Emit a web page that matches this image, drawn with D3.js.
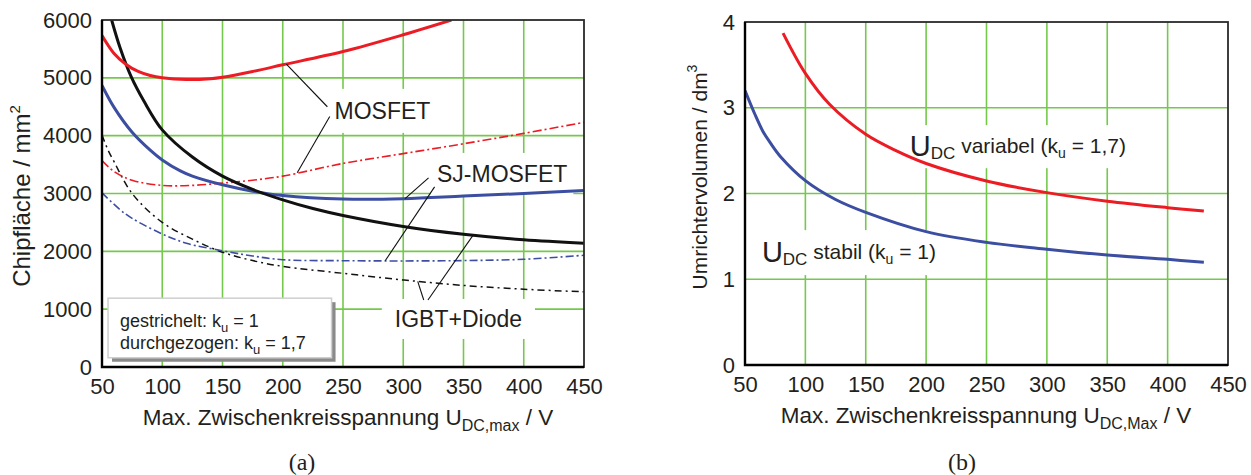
<!DOCTYPE html>
<html lang="de">
<head>
<meta charset="UTF-8">
<title>Chipfläche und Umrichtervolumen</title>
<script src="https://cdn.jsdelivr.net/npm/d3@7"></script>
<style>
  body { margin: 0; background: #fff; }
  svg { font-family: "Liberation Sans", Arial, sans-serif; fill: #231f20; }
  .grid { stroke: #74c94c; stroke-width: 1.6; }
  .tick text { font-size: 22px; fill: #231f20; }
  .leader { stroke: #111; stroke-width: 1.1; fill: none; }
</style>
</head>
<body>
<script>
// x ticks shared by both panels (U_DC,max / V)
var xTicks = [50, 100, 150, 200, 250, 300, 350, 400, 450];
var yTicksA = [0, 1000, 2000, 3000, 4000, 5000, 6000];
var yTicksB = [0, 1, 2, 3, 4];

// (a) Chipfläche / mm²  -- solid: k_u = 1,7, dash-dot: k_u = 1
var mosfetSolid = [[50,5730],[60,5420],[70,5230],[80,5110],[90,5040],[100,5000],[120,4970],[140,4985],[150,5010],[175,5110],[200,5225],[250,5455],[300,5745],[340,6000]];
var mosfetDash = [[50,3570],[60,3380],[75,3230],[100,3140],[125,3140],[150,3180],[175,3230],[200,3300],[250,3520],[300,3690],[350,3860],[400,4040],[450,4230]];
var sjSolid = [[50,4870],[60,4490],[75,4060],[90,3750],[100,3580],[115,3390],[125,3300],[150,3150],[175,3040],[200,2965],[250,2905],[300,2910],[350,2955],[400,3000],[450,3050]];
var sjDash = [[50,3010],[65,2720],[75,2570],[100,2300],[120,2140],[150,2010],[175,1920],[200,1855],[250,1838],[300,1834],[350,1840],[400,1863],[450,1932]];
var igbtSolid = [[58,6000],[65,5520],[74,5030],[85,4590],[100,4100],[125,3630],[150,3300],[175,3070],[200,2890],[225,2740],[250,2620],[300,2430],[350,2295],[400,2200],[450,2140]];
var igbtDash = [[50,4010],[55,3750],[60,3550],[75,3000],[100,2500],[125,2210],[150,1985],[175,1840],[200,1740],[250,1620],[300,1505],[350,1410],[400,1345],[450,1300]];

// (b) Umrichtervolumen / dm³
var volVariabel = [[81.5,3.87],[100,3.40],[120,3.04],[150,2.69],[175,2.50],[200,2.35],[250,2.146],[300,2.01],[350,1.91],[400,1.835],[430,1.796]];
var volStabil = [[50,3.20],[58,2.93],[65,2.72],[71,2.59],[80,2.42],[100,2.15],[125,1.93],[150,1.78],[200,1.555],[250,1.43],[300,1.35],[350,1.283],[400,1.232],[430,1.198]];

var red = "#ec1c24", blue = "#3c4ea2", black = "#111";

var svg = d3.select("body").append("svg")
    .attr("width", 1251).attr("height", 475);

// builds text with sub/superscripts; parts = [text, size, shift]
function rich(g, x, y, parts, size) {
    var t = g.append("text").attr("x", x).attr("y", y).attr("font-size", size);
    var cur = 0;
    parts.forEach(function(p) {
        var s = p[2] || 0;
        t.append("tspan").attr("dy", s - cur).attr("font-size", p[1] || size).text(p[0]);
        cur = s;
    });
    return t;
}

function panel(opt) {
    var x = d3.scaleLinear().domain([50, 450]).range([opt.left, opt.right]);
    var y = d3.scaleLinear().domain(opt.yDomain).range([opt.bottom, opt.top]);
    var g = svg.append("g");
    var id = opt.id;

    g.append("clipPath").attr("id", id).append("rect")
        .attr("x", opt.left).attr("y", opt.top)
        .attr("width", opt.right - opt.left).attr("height", opt.bottom - opt.top);

    var gridG = g.append("g");
    gridG.selectAll(".gx").data(xTicks.slice(1, -1)).enter().append("line")
        .attr("class", "grid")
        .attr("x1", x).attr("x2", x).attr("y1", opt.top).attr("y2", opt.bottom);
    gridG.selectAll(".gy").data(opt.yTicks.slice(1, -1)).enter().append("line")
        .attr("class", "grid")
        .attr("y1", y).attr("y2", y).attr("x1", opt.left).attr("x2", opt.right);

    var bgG = g.append("g");
    var curveG = g.append("g").attr("clip-path", "url(#" + id + ")");
    var textG = g.append("g");

    // frame
    g.append("rect").attr("x", opt.left).attr("y", opt.top)
        .attr("width", opt.right - opt.left).attr("height", opt.bottom - opt.top)
        .attr("fill", "none").attr("stroke", "#2a2a2a").attr("stroke-width", 1.8);
    g.append("path")
        .attr("d", "M" + opt.left + "," + opt.top + "V" + opt.bottom + "H" + opt.right)
        .attr("fill", "none").attr("stroke", "#000").attr("stroke-width", 2.4);

    // axes
    var ax = g.append("g").attr("transform", "translate(0," + opt.bottom + ")")
        .call(d3.axisBottom(x).tickValues(xTicks).tickFormat(d3.format("d")).tickSize(0).tickPadding(11));
    var ay = g.append("g").attr("transform", "translate(" + opt.left + ",0)")
        .call(d3.axisLeft(y).tickValues(opt.yTicks).tickFormat(d3.format("d")).tickSize(0).tickPadding(10));
    ax.select(".domain").remove();
    ay.select(".domain").remove();
    g.selectAll(".tick text").attr("font-family", null);

    var line = d3.line().x(function(d) { return x(d[0]); }).y(function(d) { return y(d[1]); })
        .curve(d3.curveCatmullRom.alpha(0.5));

    function curve(data, color, width, dash) {
        curveG.append("path").datum(data).attr("d", line)
            .attr("fill", "none").attr("stroke", color)
            .attr("stroke-width", width).attr("stroke-dasharray", dash || null)
            .attr("stroke-linecap", "butt");
    }

    // label with white box behind it (hides grid lines)
    function label(px, py, parts, size, padX, padY) {
        var t = rich(textG, x(px), y(py), parts, size);
        var b = t.node().getBBox();
        bgG.append("rect").attr("x", b.x - padX).attr("y", b.y - padY)
            .attr("width", b.width + 2 * padX).attr("height", b.height + 2 * padY)
            .attr("fill", "#fff");
        return t;
    }

    function leader(pts) {
        textG.append("path").attr("class", "leader")
            .attr("d", d3.line()(pts.map(function(p) { return [x(p[0]), y(p[1])]; })));
    }

    return { x: x, y: y, g: g, curve: curve, label: label, leader: leader, textG: textG, bgG: bgG };
}

// ---------- panel (a)
var A = panel({ id: "clipA", left: 102, right: 584, top: 20, bottom: 367,
    yDomain: [0, 6000], yTicks: yTicksA });

A.label(243, 4290, [["MOSFET"]], 23, 6, 9);
A.label(328, 3200, [["SJ-MOSFET"]], 23, 6, 8);
A.label(293, 692, [["IGBT+Diode"]], 23, 13, 7);

A.curve(igbtDash, black, 1.5, "7,4,2,4");
A.curve(sjDash, blue, 1.6, "8,3,2,3");
A.curve(mosfetDash, red, 1.6, "9,3,2,3");
A.curve(sjSolid, blue, 3);
A.curve(igbtSolid, black, 3);
A.curve(mosfetSolid, red, 3);

A.leader([[237, 4500], [203, 5235]]);
A.leader([[239, 4330], [212, 3360]]);
A.leader([[321, 3270], [301.5, 2912]]);
A.leader([[326, 3114], [285, 1836]]);
A.leader([[320.5, 1159], [358, 2280]]);
A.leader([[317, 1159], [312, 1480]]);

// legend box
var lx0 = A.x(55), lx1 = A.x(240.5), ly0 = A.y(1190), ly1 = A.y(160);
A.textG.append("rect").attr("x", lx0 + 4).attr("y", ly0 + 4)
    .attr("width", lx1 - lx0).attr("height", ly1 - ly0).attr("fill", "#8a8a8a");
A.textG.append("rect").attr("x", lx0).attr("y", ly0)
    .attr("width", lx1 - lx0).attr("height", ly1 - ly0)
    .attr("fill", "#fff").attr("stroke", "#cfcfcf").attr("stroke-width", 1.5);
rich(A.textG, lx0 + 12, ly0 + 29, [["gestrichelt: k"], ["u", 13, 5], [" = 1", 18, 0]], 18);
rich(A.textG, lx0 + 12, ly0 + 51, [["durchgezogen: k"], ["u", 13, 5], [" = 1,7", 18, 0]], 18);

// axis titles (a)
rich(svg, 348, 425, [["Max. Zwischenkreisspannung U"], ["DC,max", 16, 6], [" / V", 22.5, 0]], 22.5)
    .attr("text-anchor", "middle");
rich(svg, 0, 0, [["Chipfläche / mm"], ["2", 15, -10]], 24)
    .attr("transform", "translate(30,196) rotate(-90)")
    .attr("text-anchor", "middle");
svg.append("text").attr("x", 302).attr("y", 470).attr("text-anchor", "middle")
    .attr("font-family", "'Liberation Serif', 'DejaVu Serif', serif").attr("font-size", 24)
    .text("(a)");

// ---------- panel (b)
var B = panel({ id: "clipB", left: 745, right: 1228, top: 22, bottom: 365,
    yDomain: [0, 4], yTicks: yTicksB });

B.label(186.5, 2.47, [["U", 29, 3], ["DC", 17, 6], [" variabel (k", 21, 0], ["u", 14, 5], [" = 1,7)", 21, 0]], 21, 4, 5);
B.label(64, 1.235, [["U", 29, 3], ["DC", 17, 6], [" stabil (k", 21, 0], ["u", 14, 5], [" = 1)", 21, 0]], 21, 4, 6);

B.curve(volStabil, blue, 3);
B.curve(volVariabel, red, 3);

rich(svg, 986, 423, [["Max. Zwischenkreisspannung U"], ["DC,Max", 16, 6], [" / V", 22.5, 0]], 22.5)
    .attr("text-anchor", "middle");
rich(svg, 0, 0, [["Umrichtervolumen / dm"], ["3", 14, -10]], 21)
    .attr("transform", "translate(707,177) rotate(-90)")
    .attr("text-anchor", "middle");
svg.append("text").attr("x", 962).attr("y", 470).attr("text-anchor", "middle")
    .attr("font-family", "'Liberation Serif', 'DejaVu Serif', serif").attr("font-size", 24)
    .text("(b)");
</script>
</body>
</html>
